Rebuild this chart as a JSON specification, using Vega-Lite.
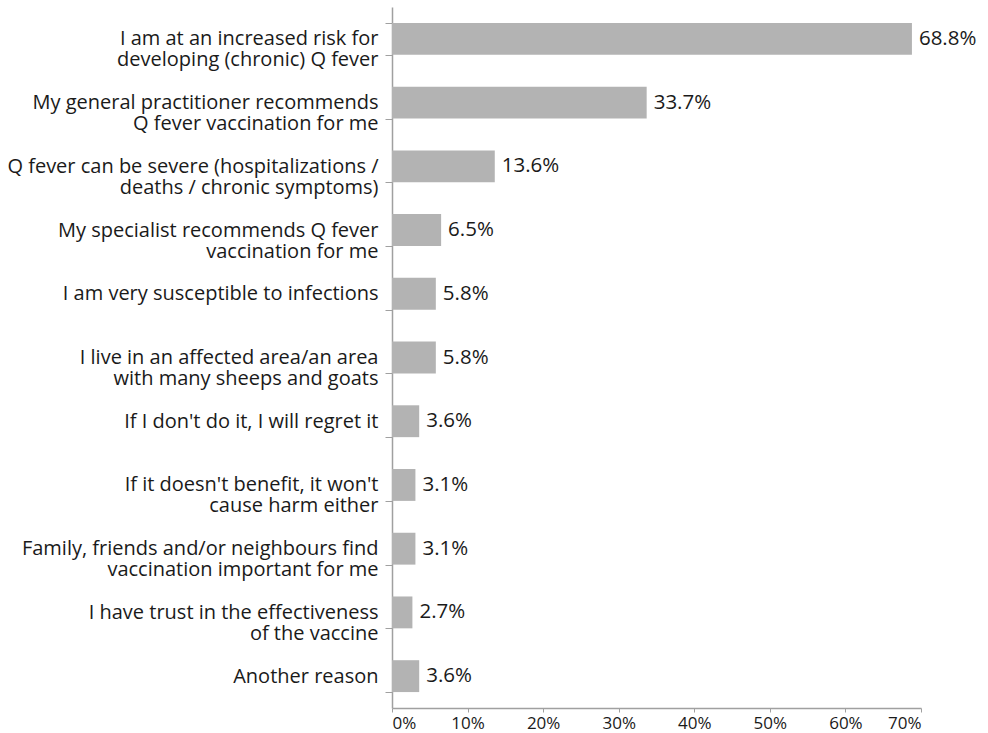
{
  "$schema": "https://vega.github.io/schema/vega-lite/v6.json",
  "autosize": {"type": "none"},
  "width": 529,
  "height": 701,
  "padding": {"left": 392, "top": 7, "right": 67, "bottom": 25},
  "background": "white",
  "config": {
    "view": {"stroke": null},
    "font": "Open Sans",
    "axis": {"labelFont": "Open Sans", "labelColor": "#1a1a1a", "domainColor": "#a0a0a0", "tickColor": "#a0a0a0", "grid": false, "title": null}
  },
  "data": {
    "values": [
      {"reason": "I am at an increased risk for|developing (chronic) Q fever", "pct": 68.8, "label": "68.8%"},
      {"reason": "My general practitioner recommends|Q fever vaccination for me", "pct": 33.7, "label": "33.7%"},
      {"reason": "Q fever can be severe (hospitalizations /|deaths / chronic symptoms)", "pct": 13.6, "label": "13.6%"},
      {"reason": "My specialist recommends Q fever|vaccination for me", "pct": 6.5, "label": "6.5%"},
      {"reason": "I am very susceptible to infections", "pct": 5.8, "label": "5.8%"},
      {"reason": "I live in an affected area/an area|with many sheeps and goats", "pct": 5.8, "label": "5.8%"},
      {"reason": "If I don't do it, I will regret it", "pct": 3.6, "label": "3.6%"},
      {"reason": "If it doesn't benefit, it won't|cause harm either", "pct": 3.1, "label": "3.1%"},
      {"reason": "Family, friends and/or neighbours find|vaccination important for me", "pct": 3.1, "label": "3.1%"},
      {"reason": "I have trust in the effectiveness|of the vaccine", "pct": 2.7, "label": "2.7%"},
      {"reason": "Another reason", "pct": 3.6, "label": "3.6%"}
    ]
  },
  "encoding": {
    "y": {
      "field": "reason",
      "type": "nominal",
      "sort": null,
      "scale": {"paddingInner": 0.5, "paddingOuter": 0.25},
      "axis": {
        "labelExpr": "split(datum.label, '|')",
        "labelFontSize": 20,
        "labelLineHeight": 21,
        "labelPadding": 7,
        "labelLimit": 400,
        "tickBand": "extent",
        "tickSize": 7,
        "domainWidth": 1.5
      }
    }
  },
  "layer": [
    {
      "mark": {"type": "bar", "color": "#b3b3b3"},
      "encoding": {
        "x": {
          "field": "pct",
          "type": "quantitative",
          "scale": {"domain": [0, 70], "nice": false},
          "axis": {
            "values": [0, 10, 20, 30, 40, 50, 60, 70],
            "labelExpr": "datum.value + '%'",
            "labelFontSize": 17,
            "labelPadding": 3,
            "tickSize": 4,
            "domainWidth": 1.5
          }
        }
      }
    },
    {
      "mark": {"type": "text", "align": "left", "baseline": "middle", "dx": 7, "fontSize": 20.5, "color": "#1a1a1a"},
      "encoding": {
        "x": {"field": "pct", "type": "quantitative"},
        "text": {"field": "label", "type": "nominal"}
      }
    }
  ]
}
